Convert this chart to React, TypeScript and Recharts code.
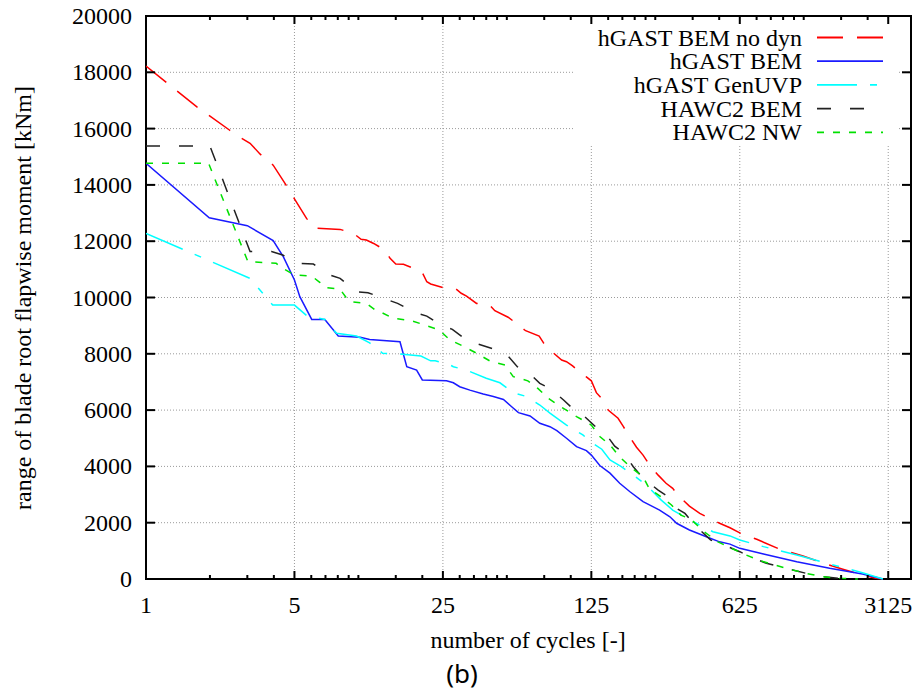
import { CartesianGrid, Legend, Line, LineChart, ReferenceArea, ReferenceLine, XAxis, YAxis } from "recharts";

const WIDTH = 919;
const HEIGHT = 694;
const PLOT_LEFT = 146;
const PLOT_RIGHT = 911;
const PLOT_TOP = 16;
const PLOT_BOTTOM = 579;
const SERIF = "'Liberation Serif', 'Times New Roman', serif";

const xMajorTicks = [1, 5, 25, 125, 625, 3125];
const xMinorTicks = [
  2, 3, 4, 6, 7, 8, 9, 10, 15, 20, 30, 35, 40, 45, 50, 75, 100, 150, 175, 200, 225, 250, 375, 500,
  750, 875, 1000, 1125, 1250, 1875, 2500
];
const yTicks = [0, 2000, 4000, 6000, 8000, 10000, 12000, 14000, 16000, 18000, 20000];
const gridCycles = [5, 25, 125, 625, 3125];

// [number of cycles, range of blade root flapwise moment in kNm]
const bemNoDyn: [number, number][] = [
  [1, 18220], [1.73, 16780], [2.47, 15950], [2.77, 15690], [3.09, 15480], [3.44, 15100], [3.97, 14700],
  [4.56, 14000], [5, 13500], [5.7, 12810], [6.24, 12460], [8.2, 12420], [9.47, 12280], [10.3, 12070],
  [10.9, 12040], [11.8, 11920], [13.3, 11690], [14.1, 11390], [15, 11190], [16.3, 11180], [18.7, 11000],
  [19.9, 10920], [21, 10560], [21.9, 10480], [25.3, 10340], [28.5, 10330], [30.5, 10150], [32.3, 10050],
  [36, 9790], [41.5, 9730], [43.9, 9530], [50.7, 9300], [55.4, 9080], [61.3, 8820], [71, 8630],
  [74.7, 8370], [78.3, 8160], [82.6, 8040], [90.6, 7780], [95.5, 7720], [102, 7570], [110, 7360],
  [118, 7190], [125, 7040], [132, 6620], [142, 6360], [150, 6000], [167, 5710], [177, 5410], [189, 5060],
  [204, 4680], [219, 4400], [237, 4010], [258, 3690], [281, 3400], [302, 3220], [325, 2920], [362, 2590],
  [405, 2330], [435, 2210], [502, 1980], [562, 1820], [625, 1640], [751, 1410], [964, 1060], [1240, 820],
  [1598, 530], [1911, 345], [2363, 140], [2730, 25], [2950, 0]
];

const bem: [number, number][] = [
  [1, 14770], [1.985, 12830], [2.67, 12630], [3, 12550], [3.97, 12020], [4.43, 11450], [5, 10620],
  [5.3, 10030], [6.03, 9220], [6.95, 9220], [8.04, 8630], [10.2, 8590], [11.3, 8510], [15.7, 8430],
  [16.9, 7540], [18.8, 7420], [20, 7070], [26, 7040], [28, 6970], [30, 6830], [33.5, 6710], [38.7, 6570],
  [43.2, 6480], [48.2, 6380], [52.7, 6120], [56.7, 5910], [64.3, 5790], [71.5, 5530], [79.8, 5410],
  [86, 5270], [95.5, 5000], [106.5, 4700], [118.5, 4560], [125, 4400], [137, 4030], [153, 3760],
  [170, 3400], [190, 3100], [219, 2750], [262, 2450], [293, 2210], [315, 1980], [362, 1740], [435, 1500],
  [502, 1320], [562, 1240], [625, 1090], [808, 890], [1159, 615], [1656, 380], [2363, 180], [2730, 60],
  [2950, 0]
];

const genUvp: [number, number][] = [
  [1, 12280], [3.09, 10680], [3.95, 9730], [5, 9730], [5.7, 9360], [6.95, 9220], [7.9, 8730], [9.8, 8630],
  [11.3, 8390], [13, 8020], [15.7, 7990], [19.7, 7920], [21.9, 7750], [23, 7750], [26.5, 7640], [28, 7540],
  [32.3, 7420], [40, 7130], [46.4, 6970], [53.6, 6620], [62, 6480], [71.5, 6180], [79.8, 5890],
  [95.5, 5470], [114, 5120], [125, 4850], [140, 4610], [153, 4230], [173, 3990], [197, 3690], [227, 3340],
  [266, 2810], [302, 2450], [376, 2040], [467, 1680], [562, 1530], [625, 1385], [808, 1150], [1159, 850],
  [1656, 533], [2363, 225], [2950, 0]
];

const hawcBem: [number, number][] = [
  [1, 15380], [2, 15380], [3.09, 11630], [3.9, 11630], [4.4, 11510], [5.3, 11210], [6.14, 11190],
  [7.35, 10800], [8.2, 10680], [9.8, 10200], [11.1, 10170], [13.5, 9940], [15.3, 9790], [18.6, 9460],
  [21, 9340], [24.5, 9020], [27.7, 8870], [32.3, 8490], [36.5, 8350], [43.9, 8160], [49.7, 7990],
  [56, 7540], [62.8, 7360], [71.5, 6950], [79.8, 6770], [92.5, 6360], [100, 6120], [102, 5980],
  [114, 5830], [132, 5380], [145, 5190], [161, 4720], [177, 4490], [197, 3990], [219, 3580], [258, 3160],
  [280, 2980], [315, 2510], [345, 2330], [390, 1860], [455, 1390], [540, 1170], [625, 970], [725, 740],
  [834, 557], [1079, 345], [1285, 200], [1536, 80], [1843, 25], [2130, 0]
];

const hawcNw: [number, number][] = [
  [1, 14770], [1.97, 14770], [3.02, 11270], [4.1, 11220], [4.28, 11090], [5, 10800], [6.03, 10760],
  [6.6, 10530], [6.95, 10360], [8.2, 10290], [8.7, 10030], [9.15, 9850], [10.9, 9790], [12, 9560],
  [12.6, 9500], [14.6, 9260], [17.7, 9180], [20.6, 9020], [24, 8850], [27, 8490], [31, 8280], [36, 8020],
  [41.5, 7750], [49, 7600], [53.6, 7190], [62.8, 7040], [70, 6770], [78.3, 6420], [88.5, 6150],
  [106.5, 5770], [125, 5470], [137, 5060], [153, 4760], [170, 4340], [190, 3990], [219, 3630], [234, 3220],
  [266, 2920], [298, 2630], [330, 2270], [368, 2120], [425, 1680], [490, 1330], [550, 1150], [670, 850],
  [779, 650], [1079, 340], [1285, 200], [1536, 80], [1843, 25], [2250, 0]
];

const SERIES = [
  { name: "hGAST BEM no dyn", color: "#ff0000", dash: "26 14", curve: bemNoDyn },
  { name: "hGAST BEM", color: "#1a1aff", dash: undefined, curve: bem },
  { name: "hGAST GenUVP", color: "#00ffff", dash: "40 13 7 13", curve: genUvp },
  { name: "HAWC2 BEM", color: "#222222", dash: "14 19", curve: hawcBem },
  { name: "HAWC2 NW", color: "#00e000", dash: "7 9", curve: hawcNw }
];

const toPoints = (curve: [number, number][]) => curve.map(([n, m]) => ({ n, m }));

function XTick({ x, payload }: any) {
  const major = xMajorTicks.includes(payload.value);
  const len = major ? 8 : 4;
  return (
    <g>
      <line x1={x} x2={x} y1={PLOT_BOTTOM} y2={PLOT_BOTTOM - len} stroke="#000" strokeWidth={2} />
      <line x1={x} x2={x} y1={PLOT_TOP} y2={PLOT_TOP + len} stroke="#000" strokeWidth={2} />
      {major && (
        <text x={x} y={613} textAnchor="middle" fontSize={24} fontFamily={SERIF} fill="#000">
          {payload.value}
        </text>
      )}
    </g>
  );
}

function YTick({ y, payload }: any) {
  return (
    <g>
      <line x1={PLOT_LEFT} x2={PLOT_LEFT + 9} y1={y} y2={y} stroke="#000" strokeWidth={2} />
      <line x1={PLOT_RIGHT - 9} x2={PLOT_RIGHT} y1={y} y2={y} stroke="#000" strokeWidth={2} />
      <text x={132} y={y + 8} textAnchor="end" fontSize={24} fontFamily={SERIF} fill="#000">
        {payload.value}
      </text>
    </g>
  );
}

function LegendBox() {
  return (
    <svg width={324} height={120} style={{ display: "block" }}>
      {SERIES.map((s, i) => {
        const cy = 11.5 + i * 23.7;
        return (
          <g key={s.name}>
            <text x={229} y={cy + 8} textAnchor="end" fontSize={24} fontFamily={SERIF} fill="#000">
              {s.name}
            </text>
            <line x1={244} x2={310} y1={cy} y2={cy} stroke={s.color} strokeWidth={1.8} strokeDasharray={s.dash} />
          </g>
        );
      })}
    </svg>
  );
}

export default function App() {
  return (
    <div style={{ position: "absolute", left: 0, top: 0, width: WIDTH, height: HEIGHT, background: "#fff", fontFamily: SERIF }}>
      <LineChart width={WIDTH} height={HEIGHT} margin={{ top: PLOT_TOP, right: WIDTH - PLOT_RIGHT, bottom: 0, left: 0 }}>
        <CartesianGrid vertical={false} stroke="#9a9a9a" strokeDasharray="1 2" />
        {gridCycles.map((c) => (
          <ReferenceLine key={c} x={c} stroke="#9a9a9a" strokeDasharray="1 2" />
        ))}
        <XAxis
          dataKey="n"
          type="number"
          scale="log"
          domain={[1, 4000]}
          allowDataOverflow
          ticks={[...xMajorTicks, ...xMinorTicks]}
          interval={0}
          tick={<XTick />}
          tickLine={false}
          axisLine={false}
          height={HEIGHT - PLOT_BOTTOM}
          label={{
            content: () => (
              <g>
                <text x={528} y={648} textAnchor="middle" fontSize={24} fontFamily={SERIF} fill="#000">
                  number of cycles [-]
                </text>
                <text x={462} y={683} textAnchor="middle" fontSize={26} fontFamily="'Noto Sans', 'DejaVu Sans', sans-serif" fill="#000">
                  (b)
                </text>
              </g>
            )
          }}
        />
        <YAxis
          type="number"
          domain={[0, 20000]}
          ticks={yTicks}
          interval={0}
          tick={<YTick />}
          tickLine={false}
          axisLine={false}
          width={PLOT_LEFT}
          label={{
            content: () => (
              <text
                x={31}
                y={298}
                transform="rotate(-90 31 298)"
                textAnchor="middle"
                fontSize={24}
                fontFamily={SERIF}
                fill="#000"
              >
                range of blade root flapwise moment [kNm]
              </text>
            )
          }}
        />
        {SERIES.map((s) => (
          <Line
            key={s.name}
            data={toPoints(s.curve)}
            dataKey="m"
            name={s.name}
            type="linear"
            stroke={s.color}
            strokeWidth={1.5}
            strokeDasharray={s.dash}
            dot={false}
            activeDot={false}
            isAnimationActive={false}
          />
        ))}
        <ReferenceArea x1={1} x2={4000} y1={0} y2={20000} fill="none" stroke="#000" strokeWidth={2} ifOverflow="visible" />
        <Legend
          layout="horizontal"
          verticalAlign="middle"
          align="center"
          content={() => <LegendBox />}
          wrapperStyle={{ left: 573, top: 26, width: 324, height: 120, background: "#fff" }}
        />
      </LineChart>
    </div>
  );
}
